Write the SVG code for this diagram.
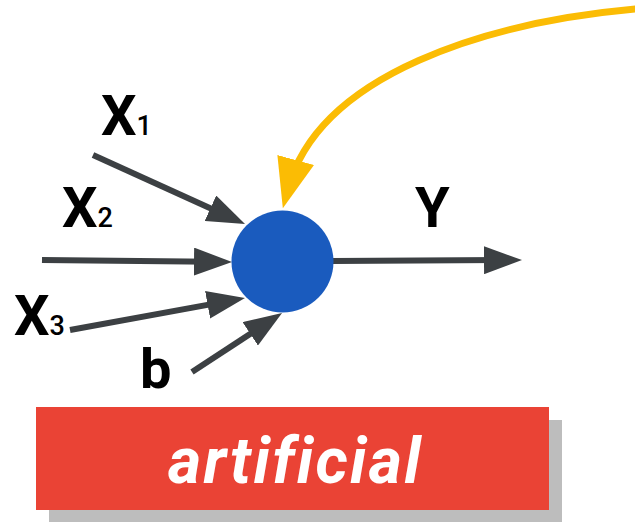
<svg xmlns="http://www.w3.org/2000/svg" width="635" height="522" viewBox="0 0 635 522">
  <style>
    .edge { fill: none; stroke: #3C4043; stroke-width: 6; }
    .feedback { fill: none; stroke: #FBBC04; stroke-width: 7; }
    .lbl { font-family: Roboto, "Liberation Sans", sans-serif; font-weight: 700; font-size: 56px; fill: #000; }
    .sub { font-size: 27px; font-weight: 500; }
    .title { font-family: Roboto, "Liberation Sans", sans-serif; font-style: italic; font-weight: 700; font-size: 64px; fill: #fff; letter-spacing: 2.3px; }
  </style>
  <defs>
    <marker id="ah" markerUnits="userSpaceOnUse" viewBox="0 0 38 28" markerWidth="38" markerHeight="28" refX="18" refY="14" orient="auto">
      <path d="M0,0 L38,14 L0,28 z" fill="#3C4043"/>
    </marker>
    <marker id="ahy" markerUnits="userSpaceOnUse" viewBox="0 0 50 38" markerWidth="50" markerHeight="38" refX="30" refY="19" orient="auto">
      <path d="M0,0 L50,19 L0,38 z" fill="#FBBC04"/>
    </marker>
  </defs>

  <g id="connectors">
    <line class="edge" x1="93" y1="155" x2="226.8" y2="215.7" marker-end="url(#ah)"/>
    <line class="edge" x1="42" y1="260" x2="212" y2="261.8" marker-end="url(#ah)"/>
    <line class="edge" x1="70" y1="330" x2="225.3" y2="301.6" marker-end="url(#ah)"/>
    <line class="edge" x1="192" y1="372" x2="265.3" y2="324" marker-end="url(#ah)"/>
    <line class="edge" x1="333" y1="261" x2="502" y2="260.1" marker-end="url(#ah)"/>
    <path class="feedback" d="M 636 9 C 490 22, 319 73, 288 189" marker-end="url(#ahy)"/>
  </g>

  <g id="neuron">
    <circle cx="282.5" cy="261.5" r="51" fill="#1A5BBE"/>
  </g>

  <g id="x1"><text class="lbl" x="101" y="135">X<tspan class="sub">1</tspan></text></g>
  <g id="x2"><text class="lbl" x="62" y="227">X<tspan class="sub">2</tspan></text></g>
  <g id="x3"><text class="lbl" x="14" y="335">X<tspan class="sub">3</tspan></text></g>
  <g id="bias"><text class="lbl" x="140" y="388">b</text></g>
  <g id="y"><text class="lbl" x="415" y="227">Y</text></g>

  <g id="label">
    <rect x="49" y="420" width="513" height="102" fill="#BDBDBD"/>
    <rect x="36" y="407" width="513" height="103" fill="#EA4335"/>
    <text class="title" x="168" y="483">artificial</text>
  </g>
</svg>
